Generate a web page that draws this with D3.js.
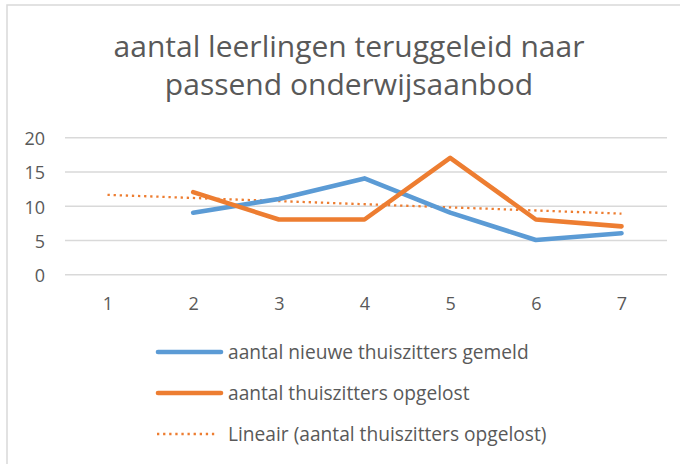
<!DOCTYPE html>
<html><head><meta charset="utf-8">
<script src="https://cdn.jsdelivr.net/npm/d3@7"></script>
<style>body{margin:0;background:#fff;}svg{display:block;}</style>
</head><body>
<svg id="c" width="680" height="464"></svg>
<script>
const categories = ["1","2","3","4","5","6","7"];
const nieuweThuiszitters = [null, 9, 11, 14, 9, 5, 6];
const thuiszittersOpgelost = [null, 12, 8, 8, 17, 8, 7];
const trendCategories = ["1","7"];
const trendValues = [11.6, 8.86];
const yTicks = [0, 5, 10, 15, 20];
const titleLines = ["aantal leerlingen teruggeleid naar", "passend onderwijsaanbod"];
const seriesNames = ["aantal nieuwe thuiszitters gemeld", "aantal thuiszitters opgelost", "Lineair (aantal thuiszitters opgelost)"];

const BLUE = "#5B9BD5", ORANGE = "#ED7D31", TXT = "#595959", GRID = "#D9D9D9";
const FONT = "'Open Sans', Lato, sans-serif";
const svg = d3.select("#c");

// fit font size of a text selection so its first node reaches target width
function fit(sel, target) {
  const n = sel.node();
  const w = n.getComputedTextLength();
  const fs = parseFloat(sel.style("font-size"));
  return fs * target / w;
}

// chart border
svg.append("rect").attr("x", 7).attr("y", 5).attr("width", 700).attr("height", 480)
  .attr("fill", "none").attr("stroke", GRID).attr("stroke-width", 1.5);

// title
const tt = svg.append("g").selectAll("text").data(titleLines).join("text")
  .attr("x", 349).attr("y", (d, i) => 57 + i * 38)
  .attr("text-anchor", "middle").attr("fill", TXT)
  .style("font-family", FONT).style("font-size", "24px").text(d => d);
const tfs = fit(tt.filter((d, i) => i === 0), 471);
tt.style("font-size", tfs + "px");

const x = d3.scalePoint().domain(categories).range([107.5, 621.5]);
const y = d3.scaleLinear().domain([0, 20]).range([274.3, 137.3]);

// grid
const yAxis = d3.axisLeft(y).tickValues(yTicks).tickSize(-602).tickPadding(20);
const gy = svg.append("g").attr("transform", "translate(65,0)").call(yAxis);
gy.select(".domain").remove();
gy.selectAll(".tick line").attr("stroke", GRID).attr("stroke-width", 1.4);
gy.selectAll(".tick text").attr("fill", TXT).style("font-family", FONT).style("font-size", "18px")
  .attr("x", -20).attr("dy", "0.4em");

const xAxis = d3.axisBottom(x).tickSize(0).tickPadding(23);
const gx = svg.append("g").attr("transform", "translate(0,274.3)").call(xAxis);
gx.select(".domain").remove();
gx.selectAll(".tick text").attr("fill", TXT).style("font-family", FONT).style("font-size", "18px");

// trendline
const trend = trendCategories.map((c, i) => ({c, v: trendValues[i]}));
svg.append("path").datum(trend)
  .attr("d", d3.line().x(d => x(d.c)).y(d => y(d.v)))
  .attr("fill", "none").attr("stroke", ORANGE).attr("stroke-width", 2.3)
  .attr("stroke-dasharray", "2.3,3.8");

function series(vals, color) {
  const pts = categories.map((c, i) => ({c, v: vals[i]})).filter(d => d.v != null);
  svg.append("path").datum(pts)
    .attr("d", d3.line().x(d => x(d.c)).y(d => y(d.v)))
    .attr("fill", "none").attr("stroke", color).attr("stroke-width", 4.6)
    .attr("stroke-linejoin", "round").attr("stroke-linecap", "round");
}
series(nieuweThuiszitters, BLUE);
series(thuiszittersOpgelost, ORANGE);

// legend
const legY = [352, 393, 434];
const lg = svg.append("g");
const legTexts = [];
seriesNames.forEach((name, i) => {
  const g = lg.append("g").attr("transform", `translate(0,${legY[i]})`);
  if (i < 2) {
    g.append("line").attr("x1", 158).attr("x2", 221).attr("y1", 0).attr("y2", 0)
      .attr("stroke", i === 0 ? BLUE : ORANGE).attr("stroke-width", 4.6).attr("stroke-linecap", "round");
  } else {
    g.append("line").attr("x1", 157).attr("x2", 218).attr("y1", 0).attr("y2", 0)
      .attr("stroke", ORANGE).attr("stroke-width", 2.3).attr("stroke-dasharray", "2.3,3.8");
  }
  legTexts.push(g.append("text").attr("x", 228).attr("y", 0).attr("dy", "0.35em")
    .attr("fill", TXT).style("font-family", FONT).style("font-size", "17px").text(name));
});
const lfs = fit(legTexts[0], 301);
legTexts.forEach(t => t.style("font-size", lfs + "px"));
</script>
</body></html>
